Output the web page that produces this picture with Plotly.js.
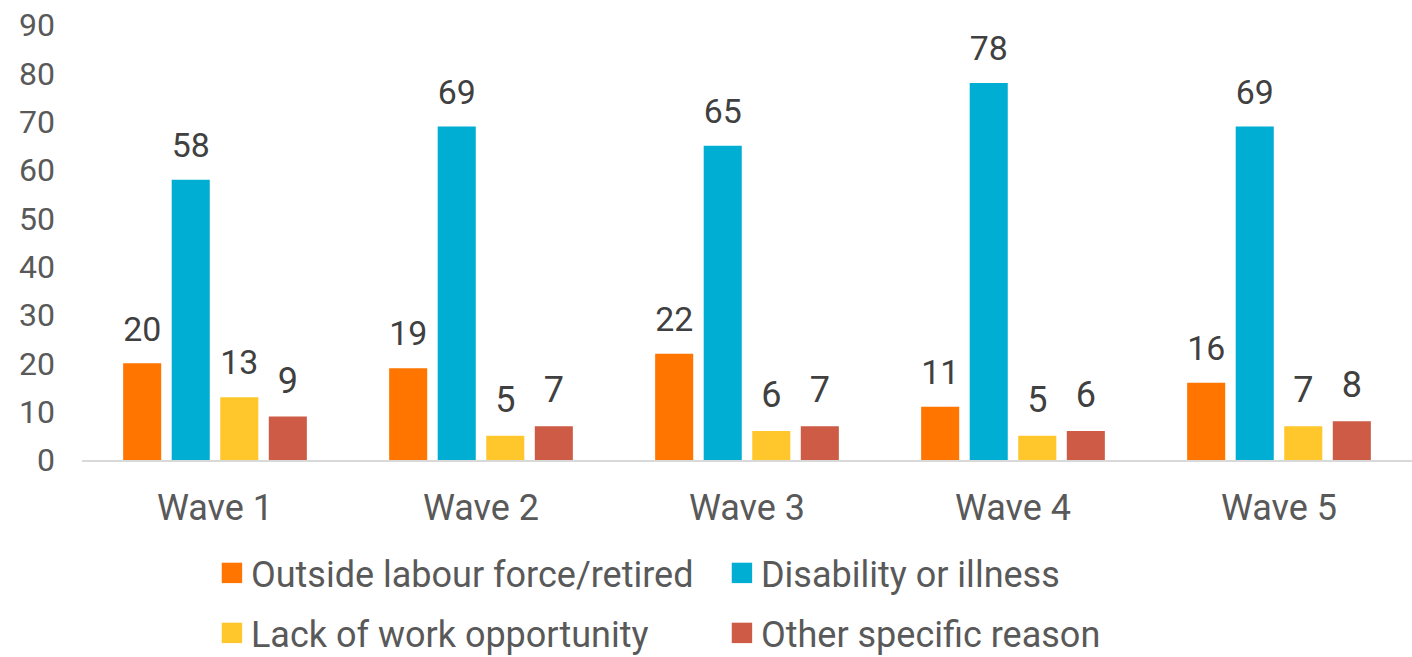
<!DOCTYPE html>
<html>
<head>
<meta charset="utf-8">
<script src="https://cdn.plot.ly/plotly-3.0.1.min.js"></script>
<style>html,body{margin:0;padding:0;background:#fff;}#chart{width:1412px;height:657px;}</style>
</head>
<body>
<div id="chart"></div>
<script>
const categories = ["Wave 1", "Wave 2", "Wave 3", "Wave 4", "Wave 5"];
const seriesNames = ["Outside labour force/retired", "Disability or illness", "Lack of work opportunity", "Other specific reason"];
const outsideLabour = [20, 19, 22, 11, 16];
const disability = [58, 69, 65, 78, 69];
const lackOfWork = [13, 5, 6, 5, 7];
const otherReason = [9, 7, 7, 6, 8];
const colors = ["#FF7500", "#00AED3", "#FFC72C", "#CD5B45"];
const yTicks = [0, 10, 20, 30, 40, 50, 60, 70, 80, 90];

const values = [outsideLabour, disability, lackOfWork, otherReason];
const legends = ["legend", "legend", "legend2", "legend2"];
const traces = values.map((v, i) => ({
  type: "bar",
  name: seriesNames[i],
  x: categories,
  y: v,
  text: v.map(String),
  textposition: "outside",
  cliponaxis: false,
  textfont: {family: "Roboto", size: 36, color: "#404040"},
  marker: {color: colors[i]},
  legend: legends[i],
  hoverinfo: "x+y+name"
}));

const legendCommon = {
  orientation: "h",
  xref: "container", yref: "container",
  x: 0.1494, xanchor: "left", yanchor: "middle",
  font: {family: "Roboto", size: 36, color: "#595959"},
  entrywidth: 465, entrywidthmode: "pixels",
  itemwidth: 30, bgcolor: "rgba(0,0,0,0)"
};

const layout = {
  width: 1412, height: 657,
  margin: {l: 82, r: 0, t: 25, b: 197},
  paper_bgcolor: "#fff", plot_bgcolor: "#fff",
  barmode: "group", bargap: 0.27, bargroupgap: 0.216,
  font: {family: "Roboto", color: "#595959"},
  xaxis: {
    type: "category",
    showline: true, linecolor: "#D9D9D9", linewidth: 2,
    showgrid: false, ticks: "",
    tickfont: {family: "Roboto", size: 36, color: "#595959"},
    ticklabelstandoff: 15
  },
  yaxis: {
    range: [0, 90], tickvals: yTicks, ticktext: yTicks.map(String),
    showgrid: false, zeroline: false, showline: false, ticks: "",
    tickfont: {family: "Roboto", size: 32, color: "#595959"},
    ticklabelstandoff: 26
  },
  showlegend: true,
  legend: Object.assign({}, legendCommon, {y: 1 - 573/657}),
  legend2: Object.assign({}, legendCommon, {y: 1 - 633/657})
};

Plotly.newPlot("chart", traces, layout, {displayModeBar: false, staticPlot: true}).then(gd => {
  // let the enlarged keys show fully
  gd.querySelectorAll(".legend .scrollbox").forEach(s => s.removeAttribute("clip-path"));
  // enlarge legend swatches to match the reference's square keys
  gd.querySelectorAll(".legendpoints path").forEach(p => {
    const tr = p.getAttribute("transform") || "";
    p.setAttribute("transform", tr + " translate(1,0) scale(1.7)");
  });
  // lift the value labels a little further above their bars
  gd.querySelectorAll(".bars .point text").forEach(t => {
    const y = parseFloat(t.getAttribute("y") || "0");
    t.setAttribute("y", y - 12);
  });
});
</script>
</body>
</html>
